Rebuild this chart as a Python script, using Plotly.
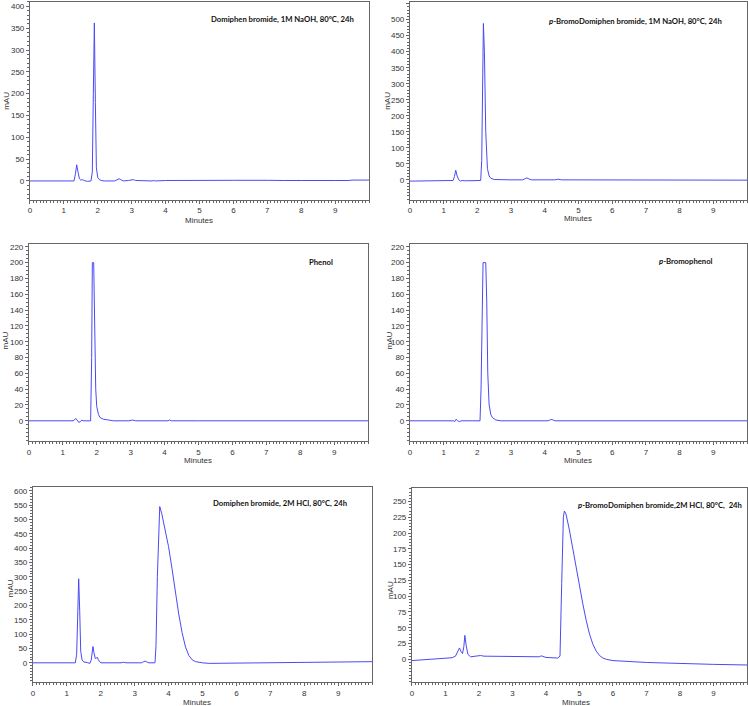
import plotly.graph_objects as go

# ---- chromatogram data (minutes, mAU) ----
naoh_time = [0, 1.30, 1.34, 1.38, 1.42, 1.46, 1.50, 1.55, 1.60, 1.70, 1.80, 1.84, 1.87, 1.90,
             1.93, 1.96, 2.00, 2.05, 2.10, 2.20, 2.50, 2.58, 2.63, 2.68, 2.75, 2.90, 3.00, 3.05,
             3.12, 3.30, 3.60, 3.65, 3.70, 4.00, 4.50, 5, 6, 7, 7.3, 7.5, 8, 8.7, 9, 9.4, 9.5, 10]
naoh_mau = [0, 0, 15, 37, 20, 5, 2, 3, 1, -1, 0, 20, 200, 362,
            180, 30, 8, 3, 1, 0, 0, 3, 5, 3, 0, 1, 2, 3,
            1, 0, 0, 1, 0, 1, 1.5, 1.5, 1.5, 1.5, 0.5, 1, 1, 2, 1, 1, 2, 2]

br_naoh_time = [0, 0.95, 1.0, 1.28, 1.32, 1.36, 1.40, 1.45, 1.50, 1.55, 1.65, 1.80, 2.10, 2.13,
                2.16, 2.18, 2.21, 2.25, 2.30, 2.35, 2.40, 2.50, 3.0, 3.35, 3.42, 3.47, 3.53, 3.60,
                4.3, 4.4, 4.5, 5, 6, 7, 7.6, 7.7, 7.8, 8, 9, 10]
br_naoh_mau = [-4, -4, -2, -2, 10, 30, 12, 0, -4, -2, -3, -3, -2, 60,
               300, 488, 400, 150, 35, 12, 5, 1, 0, 0, 4, 6, 3, 0,
               0, 2, 0, 0, 0, -1, 1, 1, 0, -1, -1, -1]

phenol_time = [0, 1.30, 1.34, 1.38, 1.42, 1.47, 1.52, 1.56, 1.60, 1.70, 1.82, 1.85, 1.87, 1.91,
               1.94, 1.97, 2.00, 2.05, 2.10, 2.20, 2.35, 2.50, 2.95, 3.05, 3.15, 4.10, 4.15, 4.20,
               5, 10]
phenol_mau = [0, 0, 1, 3, 1, -2, -1, 1, 0, 0, 0, 80, 200, 200,
              120, 40, 18, 8, 4, 2, 1, 0, 0, 1, 0, 0, 1, 0,
              0, 0]

br_phenol_time = [0, 1.30, 1.33, 1.37, 1.42, 1.47, 1.52, 2.08, 2.11, 2.14, 2.17, 2.25, 2.28, 2.31,
                  2.35, 2.40, 2.45, 2.55, 2.70, 4.10, 4.17, 4.22, 4.30, 10]
br_phenol_mau = [0, 0, -1, 2, 0, -1, 0, 0, 40, 150, 200, 200, 150, 60,
                 20, 8, 4, 1, 0, 0, 1.5, 1.5, 0, 0]

hcl_time = [0, 1.25, 1.29, 1.32, 1.35, 1.38, 1.41, 1.45, 1.50, 1.60, 1.68, 1.72, 1.75, 1.77,
            1.80, 1.84, 1.87, 1.90, 1.93, 1.97, 2.00, 2.60, 2.67, 2.75, 3.20, 3.27, 3.31, 3.36,
            3.42, 3.60, 3.63, 3.67, 3.71, 3.74, 3.80, 3.90, 4.00, 4.10, 4.20, 4.30, 4.40, 4.50,
            4.60, 4.70, 4.80, 4.90, 5.00, 5.20, 6, 7, 8, 9, 10]
hcl_mau = [0, 0, 30, 200, 293, 180, 40, 10, 3, 1, -2, 10, 45, 57,
           35, 15, 17, 19, 10, 2, 0, 0, 2, 0, 0, 4, 6, 3,
           0, 0, 60, 300, 500, 545, 520, 465, 405, 330, 245, 170, 105, 55,
           25, 10, 4, 1, 0, -2, -1, 0, 1, 2, 4]

br_hcl_time = [0, 0.5, 1.0, 1.20, 1.30, 1.37, 1.42, 1.47, 1.51, 1.55, 1.58, 1.62, 1.67, 1.75,
               2.00, 2.05, 2.15, 3.0, 3.5, 3.80, 3.86, 3.92, 4.00, 4.35, 4.42, 4.47, 4.52, 4.55,
               4.60, 4.70, 4.80, 4.90, 5.00, 5.10, 5.20, 5.30, 5.40, 5.50, 5.60, 5.70, 5.80, 6.0,
               7, 8, 9, 10]
br_hcl_mau = [-2, -0.5, 1.5, 2.5, 5, 12, 18, 12, 9, 20, 38, 22, 8, 4,
              5, 6, 5, 5, 4, 4, 5.5, 4, 3, 2, 5, 120, 225, 235,
              230, 205, 175, 145, 115, 88, 62, 40, 24, 13, 6, 2, 0, -2,
              -5, -7, -8, -9]

panel_labels = ["Domiphen bromide, 1M NaOH, 80°C, 24h",
                "<i>p</i>-BromoDomiphen bromide, 1M NaOH, 80°C, 24h",
                "Phenol",
                "<i>p</i>-Bromophenol",
                "Domiphen bromide, 2M HCl, 80°C, 24h",
                "<i>p</i>-BromoDomiphen bromide,2M HCl, 80°C,  24h"]

y_ticks = [list(range(0, 401, 50)), list(range(0, 551, 50)),
           list(range(0, 221, 20)), list(range(0, 221, 20)),
           list(range(0, 601, 50)), list(range(0, 251, 25))]
y_ranges = [[-43, 410], [-62, 555], [-26, 224], [-26, 224], [-67, 612], [-36, 271]]
y_minor = [10, 10, 5, 5, 10, 5]
x_ticks = list(range(0, 10))

series = [(naoh_time, naoh_mau), (br_naoh_time, br_naoh_mau),
          (phenol_time, phenol_mau), (br_phenol_time, br_phenol_mau),
          (hcl_time, hcl_mau), (br_hcl_time, br_hcl_mau)]

W, H = 748, 706
# plot boxes in pixels: left, right, top, bottom
boxes = [(28, 368, 1, 199), (409, 747, 1, 199),
         (27, 367, 243, 441), (409, 747, 243, 441),
         (31, 371, 487, 682), (411, 747, 488, 682)]
label_pos = [(208, 18), (546, 20), (306, 261), (657, 260), (210, 503), (576, 505)]
mau_pos = [(5, 100), (387, 100), (4, 340), (389, 340), (8, 588), (389, 590)]
minutes_pos = [(198, 220), (578, 218), (197, 460), (578, 460), (196, 702), (576, 702)]

fig = go.Figure()
tick_font = dict(family="Liberation Sans, Arial", size=8, color="#333")
line_col = "#666"

for i, ((t, v), (l, r, top, bot)) in enumerate(zip(series, boxes)):
    n = i + 1
    xa = "x" if n == 1 else f"x{n}"
    ya = "y" if n == 1 else f"y{n}"
    fig.add_trace(go.Scatter(x=t, y=v, mode="lines", xaxis=xa, yaxis=ya,
                             line=dict(color="#4a4af5", width=1), showlegend=False,
                             hoverinfo="x+y"))
    xkey = "xaxis" if n == 1 else f"xaxis{n}"
    ykey = "yaxis" if n == 1 else f"yaxis{n}"
    fig.layout[xkey] = dict(
        domain=[l / W, r / W], anchor=ya, range=[0, 10],
        tickvals=x_ticks, ticks="outside", ticklen=3, tickcolor=line_col,
        showline=True, linecolor=line_col, linewidth=1, mirror=True,
        showgrid=False, zeroline=False, tickfont=tick_font,
        minor=dict(dtick=0.1, ticks="outside", ticklen=2, tickcolor=line_col),
    )
    fig.layout[ykey] = dict(
        domain=[1 - bot / H, 1 - top / H], anchor=xa, range=y_ranges[i],
        tickvals=y_ticks[i], ticks="outside", ticklen=3, tickcolor=line_col,
        showline=True, linecolor=line_col, linewidth=1, mirror=True,
        showgrid=False, zeroline=False, tickfont=tick_font,
        minor=dict(dtick=y_minor[i], ticks="outside", ticklen=2, tickcolor=line_col),
    )
    lx, ly = label_pos[i]
    fig.add_annotation(x=lx / W, y=1 - ly / H, xref="paper", yref="paper",
                       text=f"<b>{panel_labels[i]}</b>", showarrow=False,
                       xanchor="left", yanchor="middle",
                       font=dict(family="Lato, Liberation Sans", size=7.7, color="#111"))
    mx, my = mau_pos[i]
    fig.add_annotation(x=mx / W, y=1 - my / H, xref="paper", yref="paper",
                       text="mAU", showarrow=False, textangle=-90,
                       xanchor="center", yanchor="middle", font=tick_font)
    nx, ny = minutes_pos[i]
    fig.add_annotation(x=nx / W, y=1 - ny / H, xref="paper", yref="paper",
                       text="Minutes", showarrow=False,
                       xanchor="center", yanchor="middle", font=tick_font)

fig.update_layout(width=W, height=H, margin=dict(l=0, r=0, t=0, b=0),
                  plot_bgcolor="white", paper_bgcolor="white")

# the page body has a default margin; drop it so the figure fills the window
fig.write_html("out.html", config={"displayModeBar": False},
               post_script="document.body.style.margin='0';")
